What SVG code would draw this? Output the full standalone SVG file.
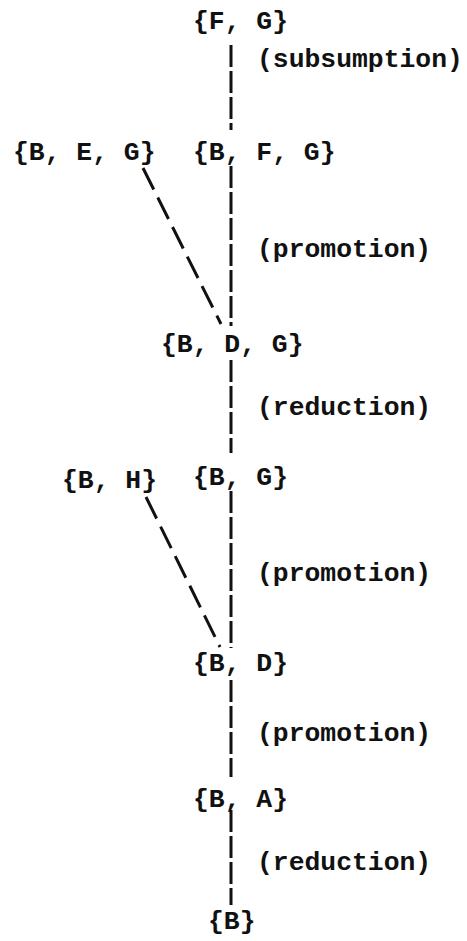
<svg xmlns="http://www.w3.org/2000/svg" width="467" height="941" viewBox="0 0 467 941">
<style>
  text { font-family: "Liberation Mono", "Courier New", monospace; font-size: 26.4px; font-weight: bold; fill: #111; }
  .edge { stroke: #111; stroke-width: 3; fill: none; }
  .v { stroke-dasharray: 22 4; }
  .d { stroke-dasharray: 24 9; }
</style>
<rect width="467" height="941" fill="#fff"/>
<g id="connectors">
  <line class="edge v" x1="231" y1="45" x2="231" y2="130"/>
  <line class="edge v" x1="231" y1="166" x2="231" y2="326"/>
  <line class="edge v" x1="231" y1="360" x2="231" y2="453"/>
  <line class="edge v" x1="231" y1="491" x2="231" y2="648"/>
  <line class="edge v" x1="231" y1="680" x2="231" y2="777"/>
  <line class="edge v" x1="231" y1="810" x2="231" y2="905"/>
  <line class="edge d" x1="143" y1="168" x2="221" y2="324"/>
  <line class="edge d" x1="146" y1="497" x2="220" y2="647"/>
</g>
<g id="edge-labels">
  <text x="257" y="67">(subsumption)</text>
  <text x="257" y="257">(promotion)</text>
  <text x="257" y="415">(reduction)</text>
  <text x="257" y="581">(promotion)</text>
  <text x="257" y="741">(promotion)</text>
  <text x="257" y="870">(reduction)</text>
</g>
<g id="node-FG"><text x="193" y="29">{F, G}</text></g>
<g id="node-BEG"><text x="13" y="160">{B, E, G}</text></g>
<g id="node-BFG"><text x="193" y="160">{B, F, G}</text></g>
<g id="node-BDG"><text x="161" y="352">{B, D, G}</text></g>
<g id="node-BH"><text x="62" y="488">{B, H}</text></g>
<g id="node-BG"><text x="193" y="485">{B, G}</text></g>
<g id="node-BD"><text x="193" y="671">{B, D}</text></g>
<g id="node-BA"><text x="193" y="807">{B, A}</text></g>
<g id="node-B"><text x="208" y="929">{B}</text></g>
</svg>
